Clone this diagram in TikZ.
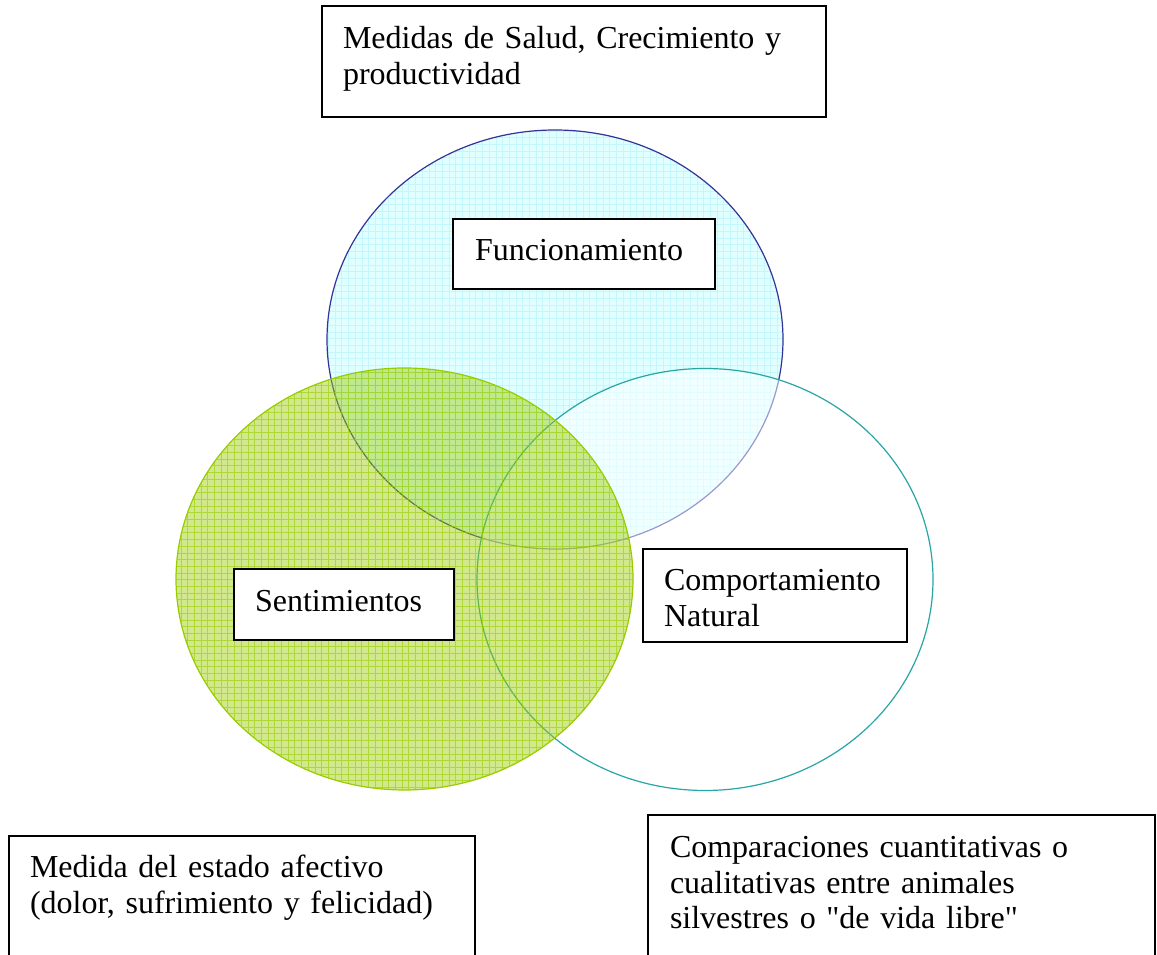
\documentclass[tikz,border=0pt]{standalone}
\usepackage{fontspec}
\setmainfont{Liberation Serif}
\usepackage{xcolor}
\usepackage{tikz}
\usetikzlibrary{positioning}
\definecolor{FuncBlue}  {RGB}{ 51,  51, 153}
\definecolor{FuncFill}  {RGB}{225, 255, 255}
\definecolor{FuncGrid}  {RGB}{195, 247, 253}
\definecolor{CompTeal}  {RGB}{ 40, 165, 165}
\definecolor{SentGreen} {RGB}{153, 204,   0}
\tikzset{
  caja/.style={draw=black, line width=2pt, fill=white, outer sep=0pt,
               inner ysep=0pt, align=left, anchor=north west,
               font=\fontsize{32}{35.5}\selectfont}
}

\begin{document}
\begin{tikzpicture}[x=1pt, y=1pt]
      \useasboundingbox (0,0) rectangle (1157,955);
      \clip (0,0) rectangle (1157,955);
      % Funcionamiento circle
      \fill[FuncFill] (555,615.5) ellipse [x radius=228, y radius=209.5];
      \begin{scope}
        \clip (555,615.5) ellipse [x radius=228, y radius=209.5];
        \draw[FuncGrid, line width=0.6pt, step=6.7] (320,400) grid (790,830);
      \end{scope}
      \draw[FuncBlue, line width=1.2pt] (555,615.5) ellipse [x radius=228, y radius=209.5];
      % Comportamiento natural circle
      \fill[white, opacity=0.5] (705,375.5) ellipse [x radius=228, y radius=211];
      \draw[CompTeal, line width=1.2pt] (705,375.5) ellipse [x radius=228, y radius=211];
      % Sentimientos circle
      \fill[SentGreen, opacity=0.45] (404.5,376) ellipse [x radius=228.5, y radius=211];
      \begin{scope}
        \clip (404.5,376) ellipse [x radius=228.5, y radius=211];
        \draw[SentGreen, opacity=0.6, line width=0.8pt, step=6.7] (170,160) grid (640,590);
      \end{scope}
      \draw[SentGreen, line width=1.2pt] (404.5,376) ellipse [x radius=228.5, y radius=211];

      % Boxes
      \node[caja, inner xsep=21pt, text width=462pt, text height=43pt, text depth=68pt]
        (salud) at (322,949)
        {Medidas de Salud, Crecimiento y\\ productividad};
      \node[caja, inner xsep=22pt, text width=218pt, text height=42pt, text depth=28pt]
        (func) at (453,736) {Funcionamiento};
      \node[caja, inner xsep=21pt, text width=178pt, text height=43pt, text depth=28pt]
        (sent) at (234,386) {Sentimientos};
      \node[caja, inner xsep=21pt, text width=222pt, text height=42pt, text depth=51pt]
        (comp) at (643,406) {Comportamiento\\ Natural};
      \node[caja, inner xsep=21pt, text width=424pt, text height=42pt, text depth=122pt]
        (afectivo) at (9,119)
        {Medida del estado afectivo\\ (dolor, sufrimiento y felicidad)};
      \node[caja, inner xsep=22pt, text width=463pt, text height=43pt, text depth=142pt]
        (silvestres) at (648,140)
        {Comparaciones cuantitativas o\\ cualitativas entre animales\\
         silvestres o \textquotedbl de vida libre\textquotedbl};
    \end{tikzpicture}
\end{document}
